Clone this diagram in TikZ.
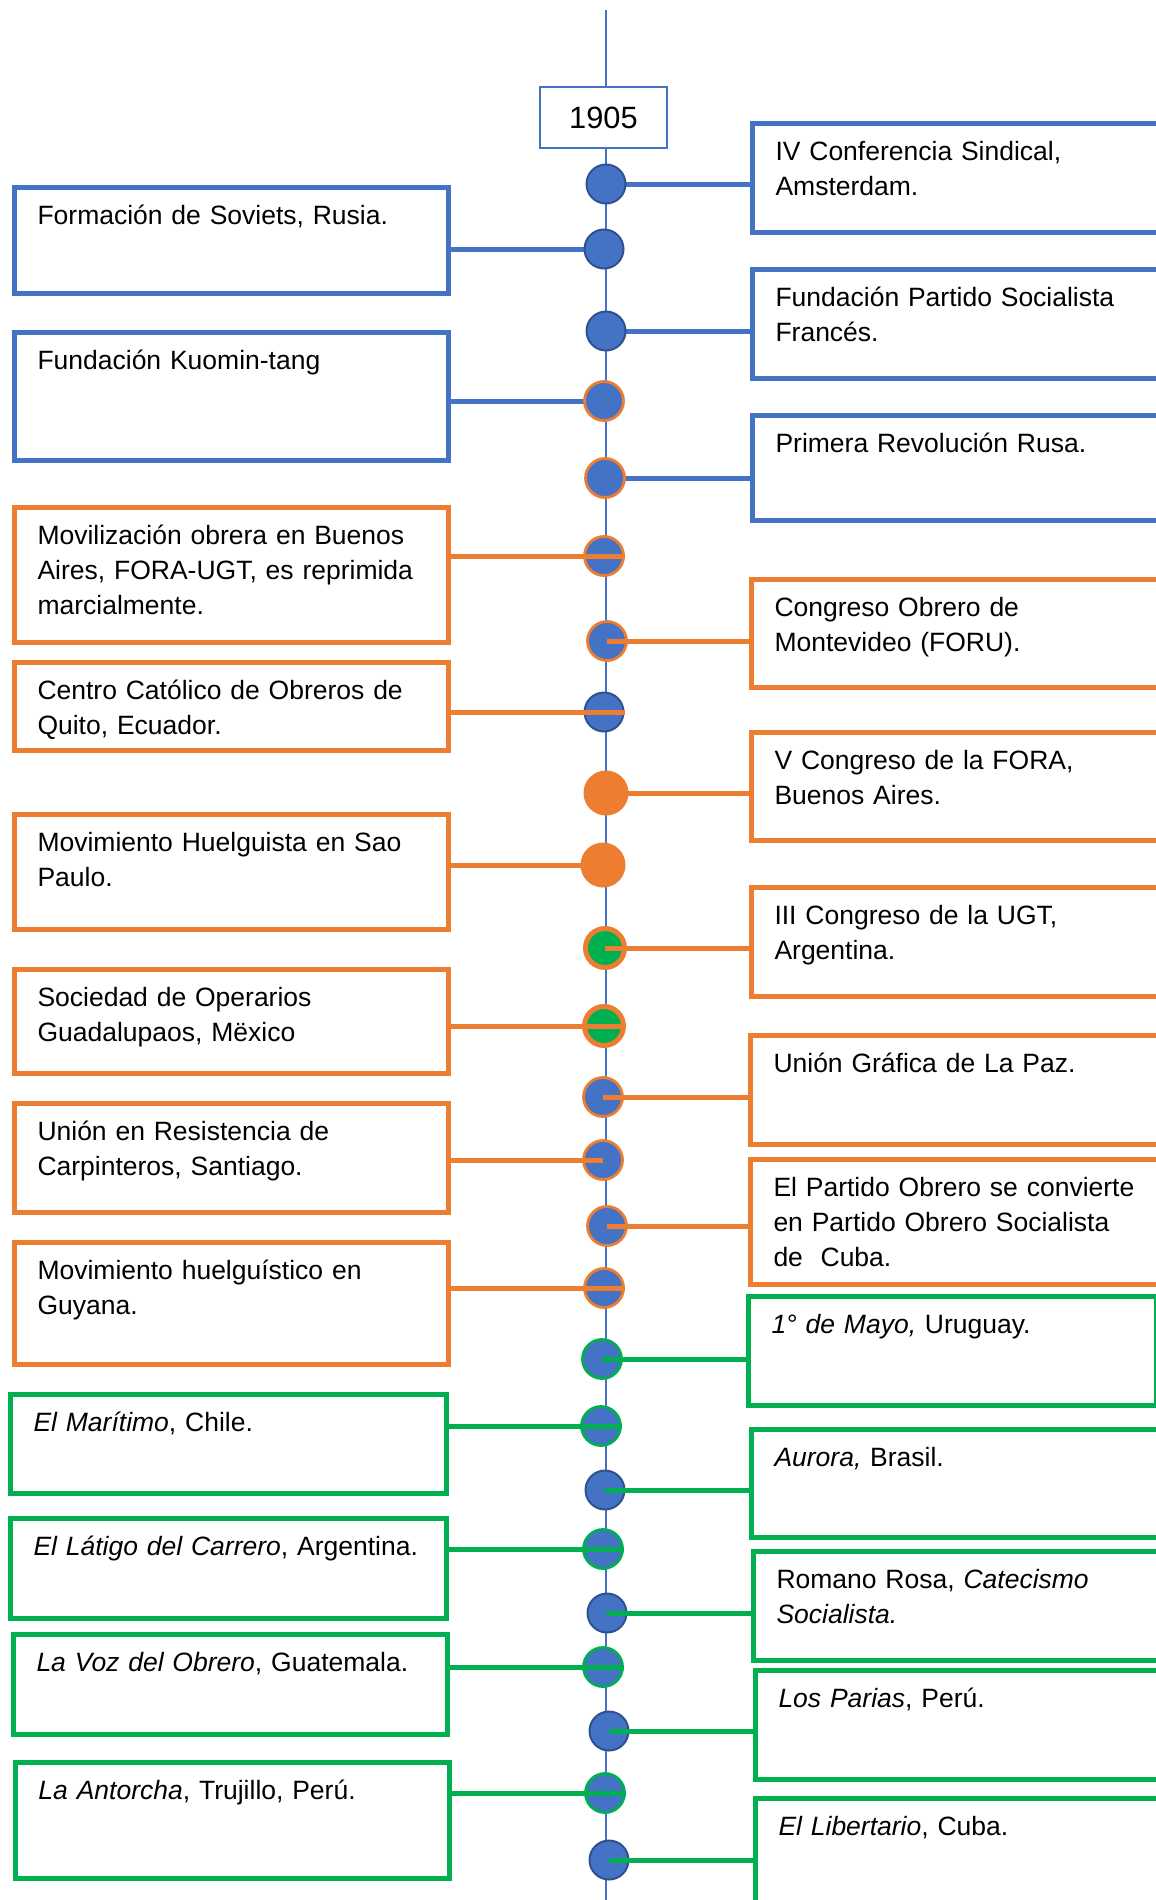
\documentclass[tikz,border=0pt]{standalone}
\usepackage{fontspec}
\setmainfont{Liberation Sans}
\definecolor{cblue}{HTML}{4472C4}
\definecolor{corange}{HTML}{ED7D31}
\definecolor{cgreen}{HTML}{00B050}
\definecolor{cdark}{HTML}{2F528F}
\pgfdeclarelayer{bg}
\pgfdeclarelayer{mid}
\pgfsetlayers{bg,mid,main}
% name, colour, left, top, right, bottom, text  (pixel coordinates)
\newcommand\evbox[7]{%
  \pgfmathsetmacro\evbd{(#6-#4)*0.5-18.5}%
  \pgfmathsetmacro\evtw{(#5-#3)*0.5-23}%
  \node[evb, draw=#2, text width=\evtw pt, text depth=\evbd pt] (#1) at (#3,#4) {#7};}
\begin{document}
\begin{tikzpicture}[x=0.5pt,y=-0.5pt,
  evb/.style={anchor=north west, inner xsep=11.5pt, inner ysep=0pt, line width=2.5pt,
    fill=white, align=left, text height=18.5pt,
    font=\fontsize{13.25pt}{17.5pt}\selectfont},
  dot/.style={circle, inner sep=0pt, minimum size=19.5pt, fill=cblue},
  dkc/.style={dot, draw=cdark, line width=1pt},
  orc/.style={dot, draw=corange, line width=1.4pt},
  grc/.style={dot, draw=cgreen, line width=1.4pt},
  ofc/.style={circle, inner sep=0pt, minimum size=22.5pt, fill=corange},
  goc/.style={circle, inner sep=0pt, minimum size=19.5pt, fill=cgreen, draw=corange, line width=2.5pt},
  conn/.style={line width=2.5pt},
  yearbox/.style={draw=cblue, line width=1.2pt, fill=white, minimum width=63.5pt,
    minimum height=30.5pt, inner sep=0pt, font=\fontsize{15.4pt}{18pt}\selectfont}
]
\useasboundingbox (0,0) rectangle (1156,1900);
\clip (0,0) rectangle (1156,1900);

% time axis
\coordinate (axtop) at (606,10);
\coordinate (axbot) at (606,1900);
\begin{pgfonlayer}{bg}
  \draw[cblue, line width=0.8pt] (axtop) -- (axbot);
\end{pgfonlayer}

\node[yearbox] (year) at (603.5,117.5) {1905};

% left boxes
\evbox{L1}{cblue}{12}{185}{446}{291}{Formación de Soviets, Rusia.}
\evbox{L2}{cblue}{12}{330}{446}{458}{Fundación Kuomin-tang}
\evbox{L3}{corange}{12}{505}{446}{640}{Movilización obrera en Buenos\\Aires, FORA-UGT, es reprimida\\marcialmente.}
\evbox{L4}{corange}{12}{660}{446}{748}{Centro Católico de Obreros de\\Quito, Ecuador.}
\evbox{L5}{corange}{12}{812}{446}{927}{Movimiento Huelguista en Sao\\Paulo.}
\evbox{L6}{corange}{12}{967}{446}{1071}{Sociedad de Operarios\\Guadalupaos, Mëxico}
\evbox{L7}{corange}{12}{1101}{446}{1210}{Unión en Resistencia de\\Carpinteros, Santiago.}
\evbox{L8}{corange}{12}{1240}{446}{1362}{Movimiento huelguístico en\\Guyana.}
\evbox{L9}{cgreen}{8}{1392}{444}{1491}{\textit{El Marítimo}, Chile.}
\evbox{L10}{cgreen}{8}{1516}{444}{1616}{\textit{El Látigo del Carrero}, Argentina.}
\evbox{L11}{cgreen}{11}{1632}{445}{1732}{\textit{La Voz del Obrero}, Guatemala.}
\evbox{L12}{cgreen}{13}{1760}{447}{1876}{\textit{La Antorcha}, Trujillo, Perú.}

% right boxes
\evbox{R1}{cblue}{750}{121}{1175}{230}{IV Conferencia Sindical,\\Amsterdam.}
\evbox{R2}{cblue}{750}{267}{1175}{376}{Fundación Partido Socialista\\Francés.}
\evbox{R3}{cblue}{750}{413}{1175}{518}{Primera Revolución Rusa.}
\evbox{R4}{corange}{749}{577}{1175}{685}{Congreso Obrero de\\Montevideo (FORU).}
\evbox{R5}{corange}{749}{730}{1175}{838}{V Congreso de la FORA,\\Buenos Aires.}
\evbox{R6}{corange}{749}{885}{1175}{994}{III Congreso de la UGT,\\Argentina.}
\evbox{R7}{corange}{748}{1033}{1175}{1142}{Unión Gráfica de La Paz.}
\evbox{R8}{corange}{748}{1157}{1175}{1282}{El Partido Obrero se convierte\\en Partido Obrero Socialista\\de\ \ Cuba.}
\evbox{R9}{cgreen}{746}{1294}{1154}{1403}{\textit{1° de Mayo,} Uruguay.}
\evbox{R10}{cgreen}{749}{1427}{1175}{1535}{\textit{Aurora,} Brasil.}
\evbox{R11}{cgreen}{751}{1549}{1175}{1658}{Romano Rosa, \textit{Catecismo}\\\textit{Socialista.}}
\evbox{R12}{cgreen}{753}{1668}{1175}{1777}{\textit{Los Parias}, Perú.}
\evbox{R13}{cgreen}{753}{1796}{1175}{1950}{\textit{El Libertario}, Cuba.}

% circles
\node[dkc] (c1) at (606,184) {};
\node[dkc] (c2) at (604,249) {};
\node[dkc] (c3) at (606,331) {};
\node[orc] (c4) at (604,401) {};
\node[orc] (c5) at (605,478) {};
\node[orc] (c6) at (604,556) {};
\node[orc] (c7) at (607,641) {};
\node[dkc] (c8) at (604,712) {};
\node[ofc] (c9) at (606,793) {};
\node[ofc] (c10) at (603,865) {};
\node[goc] (c11) at (605,948) {};
\node[goc] (c12) at (604,1026) {};
\node[orc] (c13) at (603,1097) {};
\node[orc] (c14) at (603,1160) {};
\node[orc] (c15) at (607,1226) {};
\node[orc] (c16) at (604,1288) {};
\node[grc] (c17) at (602,1359) {};
\node[grc] (c18) at (601,1426) {};
\node[dkc] (c19) at (605,1490) {};
\node[grc] (c20) at (603,1549) {};
\node[dkc] (c21) at (607,1613) {};
\node[grc] (c22) at (603,1667) {};
\node[dkc] (c23) at (609,1731) {};
\node[grc] (c24) at (605,1793) {};
\node[dkc] (c25) at (609,1860) {};

% connectors under the circles (blue)
\begin{pgfonlayer}{mid}
  \draw[conn, cblue] (c1.center) -- (c1 -| R1.west);
  \draw[conn, cblue] (L1.east |- c2) -- (c2.center);
  \draw[conn, cblue] (c3.center) -- (c3 -| R2.west);
  \draw[conn, cblue] (L2.east |- c4) -- (c4.center);
  \draw[conn, cblue] (c5.center) -- (c5 -| R3.west);
  \draw[conn, corange] (c9.center) -- (c9 -| R5.west);
  \draw[conn, corange] (L5.east |- c10) -- (c10.center);
\end{pgfonlayer}

% connectors over the circles (orange)
\draw[conn, corange] (L3.east |- c6) -- (c6.east);
\draw[conn, corange] (c7.center) -- (c7 -| R4.west);
\draw[conn, corange] (L4.east |- c8) -- (c8.east);
\draw[conn, corange] (c11.center) -- (c11 -| R6.west);
\draw[conn, corange] (L6.east |- c12) -- ([xshift=-1.5pt]c12.east);
\draw[conn, corange] (c13.center) -- (c13 -| R7.west);
\draw[conn, corange] (L7.east |- c14) -- (c14.center);
\draw[conn, corange] (c15.center) -- (c15 -| R8.west);
\draw[conn, corange] (L8.east |- c16) -- (c16.east);

% connectors over the circles (green)
\draw[conn, cgreen] (c17.center) -- (c17 -| R9.west);
\draw[conn, cgreen] (L9.east |- c18) -- (c18.east);
\draw[conn, cgreen] (c19.center) -- (c19 -| R10.west);
\draw[conn, cgreen] (L10.east |- c20) -- (c20.east);
\draw[conn, cgreen] (c21.center) -- (c21 -| R11.west);
\draw[conn, cgreen] (L11.east |- c22) -- (c22.east);
\draw[conn, cgreen] (c23.center) -- (c23 -| R12.west);
\draw[conn, cgreen] (L12.east |- c24) -- (c24.east);
\draw[conn, cgreen] (c25.center) -- (c25 -| R13.west);
\end{tikzpicture}
\end{document}
